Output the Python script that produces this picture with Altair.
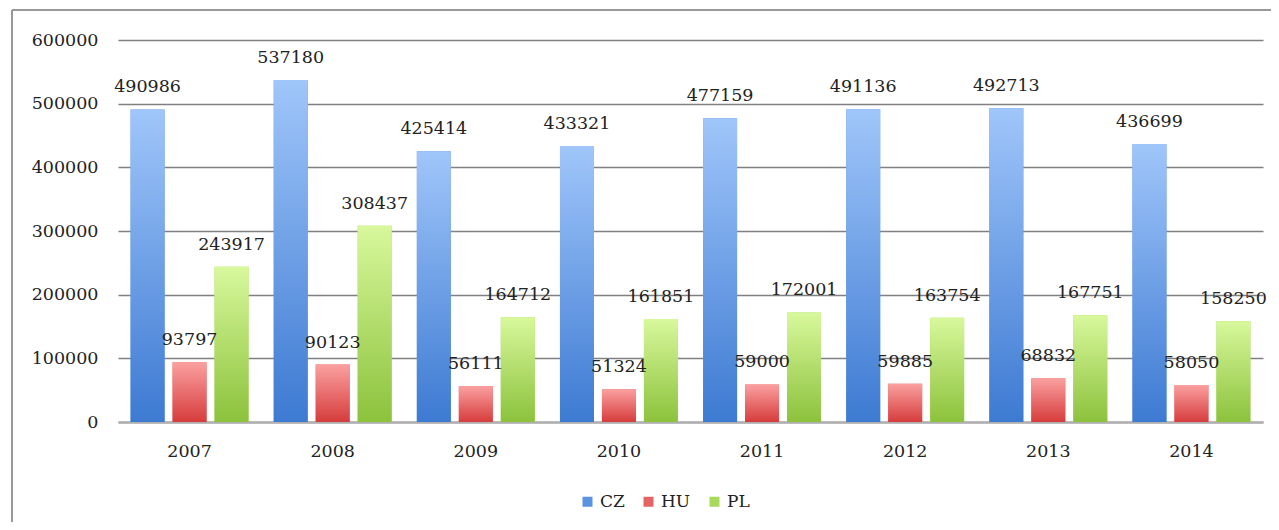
import altair as alt
import pandas as pd

years = ["2007", "2008", "2009", "2010", "2011", "2012", "2013", "2014"]
series = ["CZ", "HU", "PL"]
cz = [490986, 537180, 425414, 433321, 477159, 491136, 492713, 436699]
hu = [93797, 90123, 56111, 51324, 59000, 59885, 68832, 58050]
pl = [243917, 308437, 164712, 161851, 172001, 163754, 167751, 158250]
y_ticks = [0, 100000, 200000, 300000, 400000, 500000, 600000]

rows = []
for name, vals in zip(series, [cz, hu, pl]):
    for yr, v in zip(years, vals):
        rows.append({"year": yr, "series": name, "value": v})
df = pd.DataFrame(rows)

FONT = "DejaVu Serif"
FS = 17.5
TXT = "#222222"
solid = ["#5B93E0", "#E46464", "#A9D95A"]
grads = {
    "CZ": ("#A0C6FA", "#3D7AD2"),
    "HU": ("#FBA0A0", "#D63C3C"),
    "PL": ("#D8F89C", "#8CC23C"),
}

x_enc = alt.X("year:N", sort=years, title=None,
              scale=alt.Scale(paddingInner=0, paddingOuter=0),
              axis=alt.Axis(labelAngle=0, ticks=False, labelPadding=20,
                            labelFont=FONT, labelFontSize=FS, labelColor=TXT,
                            domain=True, domainColor="#b0b0b0", domainWidth=2.5,
                            grid=False))
xo_enc = alt.XOffset("series:N", scale=alt.Scale(domain=series, paddingInner=0.19, paddingOuter=0.3))
y_enc = alt.Y("value:Q", title=None,
              scale=alt.Scale(domain=[0, 600000]),
              axis=alt.Axis(values=y_ticks, format="d", ticks=False, domain=False,
                            labelFont=FONT, labelFontSize=FS, labelColor=TXT,
                            labelPadding=20, grid=True, gridColor="#808080", gridWidth=1.5))

base = alt.Chart(df)

solid_bars = base.mark_bar().encode(
    x=x_enc, xOffset=xo_enc, y=y_enc,
    color=alt.Color("series:N",
                    scale=alt.Scale(domain=series, range=solid),
                    legend=alt.Legend(orient="none", legendX=461, legendY=453,
                                      direction="horizontal", title=None,
                                      symbolType="square", symbolSize=100,
                                      symbolStrokeWidth=0, labelFont=FONT,
                                      labelFontSize=17, labelColor=TXT,
                                      labelOffset=4, columnPadding=15, padding=0)),
)

layers = [solid_bars]
for s in series:
    top, bot = grads[s]
    g = alt.Gradient(gradient="linear",
                     stops=[alt.GradientStop(color=top, offset=0),
                            alt.GradientStop(color=bot, offset=1)],
                     x1=0, x2=0, y1=0, y2=1)
    layers.append(
        base.transform_filter(alt.datum.series == s).mark_bar(fill=g).encode(
            x=x_enc, xOffset=xo_enc, y=y_enc)
    )

labels = base.mark_text(font=FONT, fontSize=FS, color=TXT, baseline="middle", dy=-22).encode(
    x=x_enc, xOffset=xo_enc, y=y_enc, text=alt.Text("value:Q", format="d"))
layers.append(labels)

frame_left = base.mark_rule(color="#999999", strokeWidth=2).encode(
    x=alt.value(-106), y=alt.value(-30), y2=alt.value(600))
frame_top = base.mark_rule(color="#999999", strokeWidth=2).encode(
    x=alt.value(-106), x2=alt.value(1300), y=alt.value(-30))
layers += [frame_left, frame_top]

chart = alt.layer(*layers).properties(
    width=1145, height=382,
    padding={"left": 110, "top": 32, "right": 8, "bottom": 100},
    autosize="none",
    background="white",
).configure_view(stroke=None)

chart.save("out.html", embed_options={"renderer": "svg", "actions": False})
